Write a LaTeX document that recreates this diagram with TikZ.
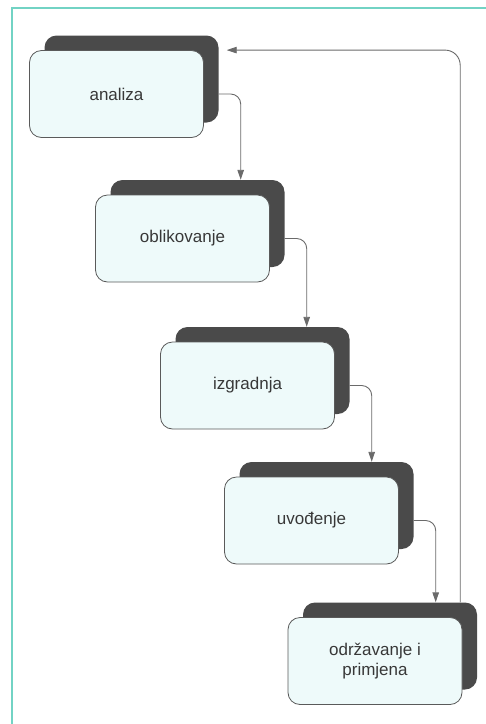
\documentclass[tikz,border=0pt]{standalone}
\usepackage{fontspec}
\setmainfont{Liberation Sans}
\usetikzlibrary{arrows.meta, positioning}

\definecolor{stagefill}{HTML}{EEFAFA}
\definecolor{backgray}{HTML}{4A4A4A}
\definecolor{edgegray}{HTML}{5A5A5A}
\definecolor{linegray}{HTML}{6A6A6A}
\definecolor{textgray}{HTML}{383838}
\definecolor{frameteal}{HTML}{72D3C4}

\begin{document}
\begin{tikzpicture}[x=1pt, y=-1pt, ->, >={Triangle[length=10pt,width=6.5pt]},
  every node/.style = {rounded corners=12pt, minimum width=174pt, minimum height=87pt, align=center},
  stage/.style = {draw=edgegray, line width=0.8pt, fill=stagefill, text=textgray, font=\fontsize{17}{20}\selectfont},
  back/.style = {fill=backgray},
  flow/.style = {draw=linegray, line width=0.9pt, rounded corners=10pt}]
  \useasboundingbox (0,0) rectangle (486,724);
  \draw[-, draw=frameteal, line width=2pt] (486,7.5) -- (12,7.5) -- (12,724);
  % dark back plate first, then the stage on top of it
  \foreach \n/\x/\y/\txt in {analiza/131.5/79/analiza,
      oblikovanje/197.5/223.5/oblikovanje,
      izgradnja/262.5/370.5/izgradnja,
      uvodenje/326.5/505.5/uvođenje,
      odrzavanje/390/646/{održavanje i\\primjena}} {
    \node[back] (\n-s) at (\x,\y) {};
    \node[stage] (\n) at ([shift={(-15pt,-15pt)}]\n-s) {\txt};
  }
  \foreach \a/\b in {analiza/oblikovanje, oblikovanje/izgradnja, izgradnja/uvodenje, uvodenje/odrzavanje}
    \draw[flow] (\a-s.east |- \a) -| ([xshift=22pt]\a-s.east |- \b-s.north);
  % back to the start
  \draw[flow, rounded corners=15pt, shorten >=8pt] ([xshift=-17pt]odrzavanje-s.north east) |- (analiza-s.east |- analiza.north);
\end{tikzpicture}
\end{document}
